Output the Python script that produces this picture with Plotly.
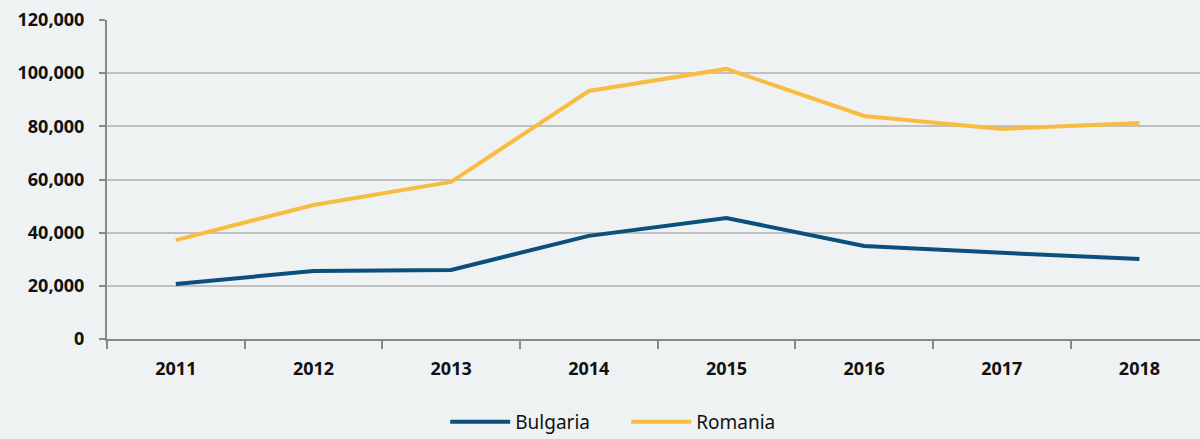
import plotly.graph_objects as go

years = ["2011", "2012", "2013", "2014", "2015", "2016", "2017", "2018"]
bulgaria = [20700, 25600, 26000, 38800, 45500, 35000, 32400, 30100]
romania = [37200, 50400, 59100, 93300, 101600, 83900, 79000, 81300]

bg = "#eef2f3"
fig = go.Figure()
fig.add_trace(go.Scatter(x=years, y=bulgaria, name="Bulgaria", mode="lines",
                         line=dict(color="#0c4f7b", width=4)))
fig.add_trace(go.Scatter(x=years, y=romania, name="Romania", mode="lines",
                         line=dict(color="#f8bd40", width=4)))

fig.update_layout(
    width=1200, height=439,
    paper_bgcolor=bg, plot_bgcolor=bg,
    margin=dict(l=107, r=0, t=20, b=100, autoexpand=False),
    font=dict(family="Open Sans", color="#111111", size=18),
    showlegend=True,
    legend=dict(orientation="h", xref="container", x=0.371, xanchor="left",
                yref="container", y=0.039, yanchor="middle",
                font=dict(size=19, family="Noto Sans"), itemwidth=60,
                entrywidth=106, entrywidthmode="pixels", tracegroupgap=0),
    xaxis=dict(type="category", range=[-0.5, 7.44], showgrid=False,
               showline=True, linecolor="#888888", linewidth=2,
               ticks="outside", tickson="boundaries", ticklen=8, tickcolor="#888888", tickwidth=2,
               ticklabelstandoff=12,
               tickfont=dict(size=18, family="Open Sans", weight="bold"), fixedrange=True),
    yaxis=dict(range=[0, 120000], dtick=20000, tickformat=",d",
               showgrid=True, gridcolor="#c0c0c0", gridwidth=2,
               showline=True, linecolor="#888888", linewidth=2,
               ticks="outside", ticklen=6, tickcolor="#888888", tickwidth=2,
               ticklabelstandoff=11,
               tickfont=dict(size=18, family="Open Sans", weight="bold"), zeroline=False),
)
fig.write_html("out.html", config={"displayModeBar": False},
               post_script="document.body.style.margin='0';document.body.style.background='#eef2f3';")
